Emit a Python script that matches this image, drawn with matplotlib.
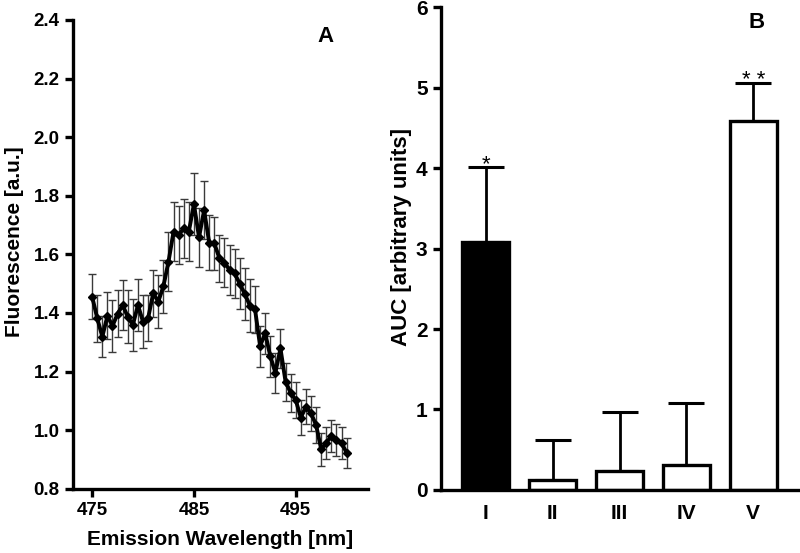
import numpy as np
import matplotlib
matplotlib.use("Agg")
import matplotlib.pyplot as plt

plt.rcParams['font.family'] = ['Liberation Sans', 'DejaVu Sans']

# panel A: emission spectrum, every 0.5 nm from 475 to 500
wavelength = np.arange(475, 500.01, 0.5)
fluorescence = [1.456, 1.382, 1.319, 1.390, 1.356, 1.397, 1.427, 1.387, 1.359, 1.427,
                1.370, 1.383, 1.467, 1.439, 1.491, 1.575, 1.678, 1.666, 1.689, 1.678,
                1.772, 1.658, 1.751, 1.640, 1.638, 1.587, 1.572, 1.547, 1.535, 1.500,
                1.465, 1.425, 1.413, 1.287, 1.331, 1.253, 1.196, 1.279, 1.166, 1.128,
                1.103, 1.043, 1.080, 1.058, 1.018, 0.935, 0.957, 0.980, 0.967, 0.957,
                0.923]
fluor_err = [0.076, 0.080, 0.070, 0.080, 0.090, 0.080, 0.085, 0.090, 0.090, 0.090,
             0.090, 0.080, 0.080, 0.090, 0.090, 0.100, 0.100, 0.100, 0.100, 0.100,
             0.107, 0.100, 0.100, 0.094, 0.090, 0.080, 0.085, 0.085, 0.085, 0.088,
             0.090, 0.090, 0.080, 0.070, 0.070, 0.070, 0.068, 0.066, 0.065, 0.065,
             0.060, 0.060, 0.060, 0.060, 0.060, 0.057, 0.055, 0.055, 0.055, 0.055,
             0.052]

# panel B: area under curve
groups = ["I", "II", "III", "IV", "V"]
auc = [3.08, 0.12, 0.24, 0.31, 4.58]
auc_err = [0.94, 0.50, 0.73, 0.77, 0.48]
signif = ["*", "", "", "", "* *"]
bar_colors = ["black", "white", "white", "white", "white"]

fig = plt.figure(figsize=(8, 5.53), dpi=100)

# ---- panel A
ax1 = fig.add_axes([0.091, 0.116, 0.369, 0.848])
ax1.errorbar(wavelength, fluorescence, yerr=fluor_err, fmt='none',
             ecolor='#3a3a3a', elinewidth=1.0, capsize=3.2, capthick=1.0, zorder=1)
ax1.plot(wavelength, fluorescence, color='black', lw=2.8, marker='D',
         markersize=4, zorder=2)
ax1.set_xlim(473.1, 502.1)
ax1.set_ylim(0.8, 2.4)
ax1.set_xticks([475, 485, 495])
ax1.set_yticks(np.arange(0.8, 2.41, 0.2))
ax1.set_yticklabels(["%.1f" % v for v in np.arange(0.8, 2.41, 0.2)])
ax1.set_xlabel("Emission Wavelength [nm]", fontsize=15, fontweight='bold')
ax1.set_ylabel("Fluorescence [a.u.]", fontsize=15, fontweight='bold')
ax1.xaxis.set_label_coords(0.498, -0.088)
ax1.yaxis.set_label_coords(-0.166, 0.527)
ax1.text(0.856, 0.964, "A", transform=ax1.transAxes, fontsize=16,
         fontweight='bold', ha='center', va='center')

# ---- panel B
ax2 = fig.add_axes([0.551, 0.114, 0.449, 0.873])
x = np.arange(len(groups))
ax2.bar(x, auc, width=0.70, color=bar_colors, edgecolor='black', linewidth=2.4, zorder=2)
ax2.errorbar(x, auc, yerr=[np.zeros(len(auc)), auc_err], fmt='none',
             ecolor='black', elinewidth=2.0, capsize=13, capthick=2.2, zorder=1)
for xi, top, lab in zip(x, np.array(auc) + np.array(auc_err), signif):
    if lab:
        ax2.text(xi, top - 0.04, lab, ha='center', va='baseline', fontsize=16)
ax2.set_xlim(-0.674, 4.70)
ax2.set_ylim(0, 6)
ax2.set_xticks(x)
ax2.set_xticklabels(groups)
ax2.set_yticks(range(0, 7))
ax2.set_ylabel("AUC [arbitrary units]", fontsize=16, fontweight='bold')
ax2.yaxis.set_label_coords(-0.081, 0.524)
ax2.text(0.880, 0.969, "B", transform=ax2.transAxes, fontsize=16,
         fontweight='bold', ha='center', va='center')

for ax in (ax1, ax2):
    ax.spines['top'].set_visible(False)
    ax.spines['right'].set_visible(False)
    ax.spines['left'].set_linewidth(2.4)
    ax.spines['bottom'].set_linewidth(2.4)
    ax.tick_params(width=2.4, length=6, direction='out')
    for lab in ax.get_xticklabels() + ax.get_yticklabels():
        lab.set_fontweight('bold')
ax1.tick_params(labelsize=13.5)
ax2.tick_params(labelsize=15)
ax2.tick_params(axis='x', length=0, pad=10)

fig.savefig("out.png", dpi=100)
